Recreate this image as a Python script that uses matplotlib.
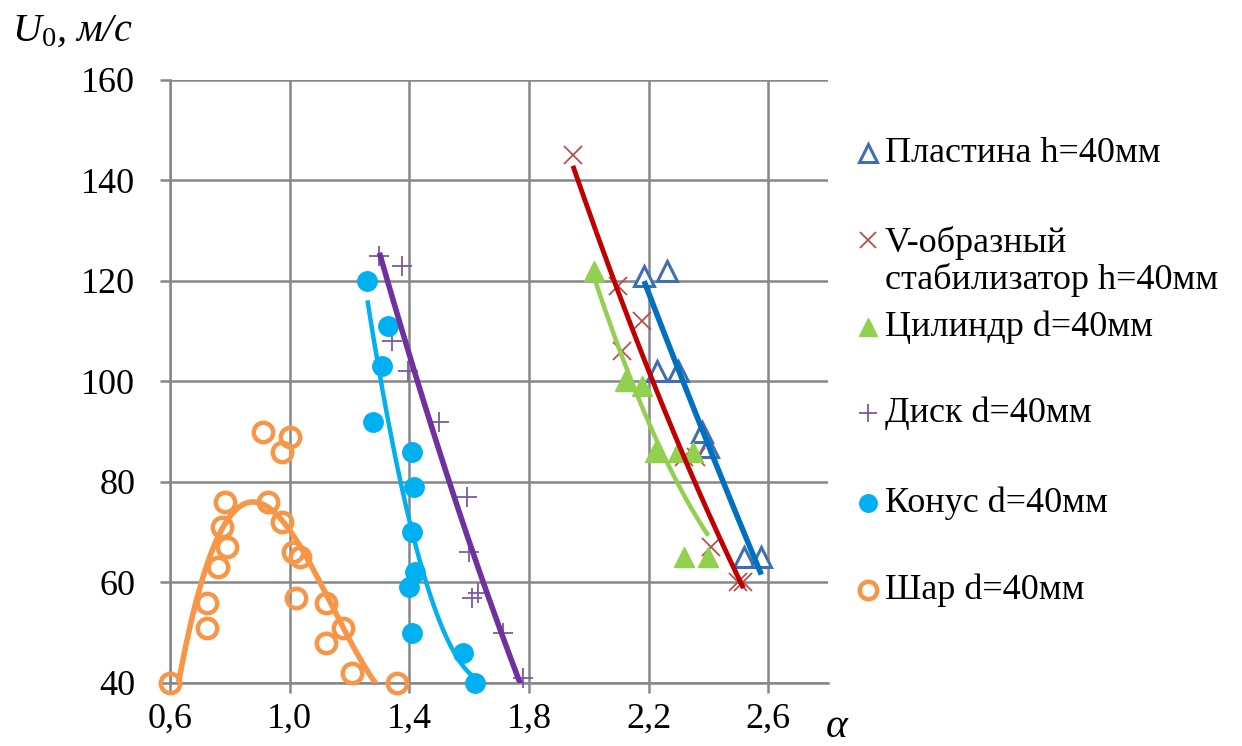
import matplotlib.pyplot as plt
import numpy as np
from matplotlib.lines import Line2D

plt.rcParams['font.family'] = ['Liberation Serif', 'DejaVu Serif']
plt.rcParams['mathtext.fontset'] = 'custom'
plt.rcParams['mathtext.rm'] = 'Liberation Serif'
plt.rcParams['mathtext.it'] = 'Liberation Serif:italic'

# Пластина h=40мм
plate_a = [2.185, 2.26, 2.227, 2.297, 2.377, 2.40, 2.52, 2.577]
plate_u = [121, 122, 102, 102, 90, 87, 65, 65]

# V-образный стабилизатор h=40мм
vstab_a = [1.947, 2.097, 2.177, 2.11, 2.32, 2.36, 2.41, 2.50, 2.517]
vstab_u = [145, 119, 112, 106, 85, 85, 67, 60, 60]

# Цилиндр d=40мм
cyl_a = [2.017, 2.12, 2.177, 2.223, 2.297, 2.35, 2.317, 2.40]
cyl_u = [122, 100, 99, 86, 86, 86, 65, 65]

# Диск d=40мм
disk_a = [1.30, 1.377, 1.343, 1.397, 1.50, 1.593, 1.60, 1.61, 1.63, 1.713, 1.78]
disk_u = [125, 123, 108, 102, 92, 77, 66, 57, 58, 50, 41]

# Конус d=40мм
cone_a = [1.26, 1.33, 1.31, 1.28, 1.41, 1.417, 1.41, 1.42, 1.40, 1.41, 1.58, 1.62]
cone_u = [120, 111, 103, 92, 86, 79, 70, 62, 59, 50, 46, 40]

# Шар d=40мм
ball_a = [0.60, 0.723, 0.723, 0.76, 0.79, 0.773, 0.783, 0.927, 0.973, 0.91,
          1.00, 0.973, 1.01, 1.033, 1.02, 1.12, 1.177, 1.12, 1.21, 1.36]
ball_u = [40, 51, 56, 63, 67, 71, 76, 76, 72, 90,
          89, 86, 66, 65, 57, 56, 51, 48, 42, 40]

x_ticks = [0.6, 1.0, 1.4, 1.8, 2.2, 2.6]
y_ticks = [40, 60, 80, 100, 120, 140, 160]

series = [
    ('Пластина h=40мм', plate_a, plate_u, 2,
     dict(marker='^', ms=14, mfc='white', mec='#3F6FB0', mew=2.2), '#0070C0', 4.0),
    ('V-образный\nстабилизатор h=40мм', vstab_a, vstab_u, 2,
     dict(marker='x', ms=13, mec='#B8504B', mew=1.3), '#C00000', 3.5),
    ('Цилиндр d=40мм', cyl_a, cyl_u, 2,
     dict(marker='^', ms=15, mfc='#92D050', mec='#92D050', mew=1), '#92D050', 3.2),
    ('Диск d=40мм', disk_a, disk_u, 2,
     dict(marker='+', ms=14, mec='#7A5AA6', mew=1.3), '#7030A0', 4.0),
    ('Конус d=40мм', cone_a, cone_u, 2,
     dict(marker='o', ms=14, mfc='#00B0F0', mec='#00B0F0', mew=1), '#00B0F0', 3.2),
    ('Шар d=40мм', ball_a, ball_u, 3,
     dict(marker='o', ms=14, mfc='none', mec='#F79646', mew=3.2), '#F79646', 4.0),
]

fig = plt.figure(figsize=(12.42, 7.46), dpi=100)
ax = fig.add_axes([0.1369, 0.0845, 0.5298, 0.8083])

for label, xs, ys, deg, mk, lc, lw in series:
    ax.plot(xs, ys, linestyle='none', zorder=3, clip_on=False, **mk)
    coef = np.polyfit(xs, ys, deg)
    xx = np.linspace(min(xs), max(xs), 200)
    ax.plot(xx, np.polyval(coef, xx), color=lc, lw=lw, zorder=4,
            solid_capstyle='butt')

ax.set_xlim(0.6, 2.8)
ax.set_ylim(40, 160)
ax.set_xticks(x_ticks)
ax.set_xticklabels([f'{v:.1f}'.replace('.', ',') for v in x_ticks])
ax.set_yticks(y_ticks)
ax.set_yticklabels([str(v) for v in y_ticks])
ax.grid(True, color='#878787', lw=1.8)
ax.set_axisbelow(True)
for side in ['top', 'right']:
    ax.spines[side].set_visible(False)
for side in ['left', 'bottom']:
    ax.spines[side].set_color('#878787')
    ax.spines[side].set_linewidth(1.8)
ax.tick_params(axis='both', colors='#878787', labelcolor='black',
               labelsize=26, length=7, width=1.8, direction='out')
ax.tick_params(axis='y', pad=18)
ax.tick_params(axis='x', pad=7)

fig.text(0.010, 0.945, r'$U_{\mathit{0}}$, м/с', fontsize=29, style='italic')
fig.text(0.665, 0.012, 'α', fontsize=30, style='italic')

# legend on the right
leg_y = [153, 240, 327, 413, 503, 590]
for (label, xs, ys, deg, mk, lc, lw), py in zip(series, leg_y):
    fy = 1 - py / 746
    m = dict(mk)
    m['ms'] = m['ms'] * 0.9
    fig.add_artist(Line2D([868 / 1242], [fy], transform=fig.transFigure,
                          linestyle='none', **m))
    if '\n' in label:
        ty = 1 - (py + 21.5) / 746
    else:
        ty = fy
    fig.text(885 / 1242, ty, label, fontsize=26, va='center',
             linespacing=1.15)

fig.savefig('out.png', dpi=100)
